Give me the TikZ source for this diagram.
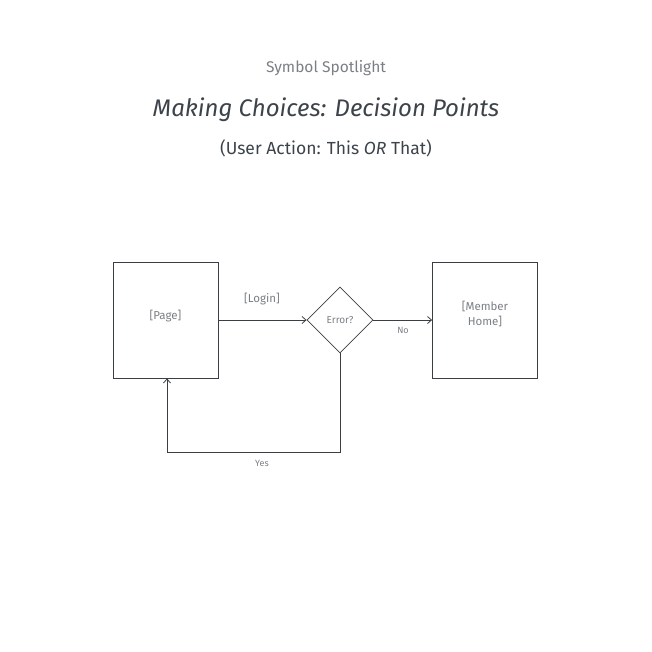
\documentclass[tikz,border=0pt]{standalone}
\usepackage{fontspec}
\setmainfont{Fira Sans}
\usepackage{xcolor}
\usetikzlibrary{positioning,arrows.meta,shapes.geometric}
\definecolor{inkline}{HTML}{3A3F44}
\definecolor{inktext}{HTML}{3D434A}
\definecolor{softtext}{HTML}{7A7F85}
\tikzset{every picture/.style={line width=0.8pt}}
\tikzset{
  screen/.style={draw=inkline,minimum width=105pt,minimum height=116pt,
    text=softtext,font=\fontsize{11.5}{15}\selectfont,align=center},
  choice/.style={draw=inkline,diamond,minimum width=66pt,minimum height=66pt,
    inner sep=0pt,text=softtext,font=\fontsize{10}{12}\selectfont},
  flow/.style={draw=inkline,-{Straight Barb[length=4pt,width=7pt]}},
  flowlabel/.style={text=softtext,font=\fontsize{9}{11}\selectfont}
}
\begin{document}
\begin{tikzpicture}[x=1pt,y=-1pt]
\useasboundingbox (0,0) rectangle (652,652);
\node[text=softtext,font=\fontsize{15.5}{18}\selectfont] (kicker) at (326,68) {Symbol Spotlight};
\node[text=inktext,font=\fontsize{24}{28}\selectfont\itshape] (title) at (326,110) {Making Choices: Decision Points};
\node[text=inktext,font=\fontsize{17.5}{21}\selectfont] (subtitle) at (326,148) {(User Action: This \textit{OR} That)};
%
\node[screen] (page) at (165.5,320) {};
\node[choice] (error) at (340,320) {Error?};
\node[screen] (home) at (485,320) {};
\node[text=softtext,font=\fontsize{11.5}{15}\selectfont] (pagetext) at (165.5,316) {[Page]};
\node[text=softtext,font=\fontsize{11.5}{15}\selectfont,align=center] (hometext) at (485,313.5) {[Member\\Home]};
%
\coordinate (yesr) at (340,452);
\coordinate (yesl) at (167,452);
%
\draw[flow] (page.east) -- (error.west);
\draw[flow] (error.east) -- (home.west);
\draw[flow] (error.south) -- (yesr) -- (yesl) -- (page.south -| yesl);
%
\node[flowlabel,font=\fontsize{11.5}{13}\selectfont] (login) at (262,299) {[Login]};
\node[flowlabel] (no) at (403,330) {No};
\node[flowlabel] (yes) at (262,463) {Yes};
\end{tikzpicture}
\end{document}
